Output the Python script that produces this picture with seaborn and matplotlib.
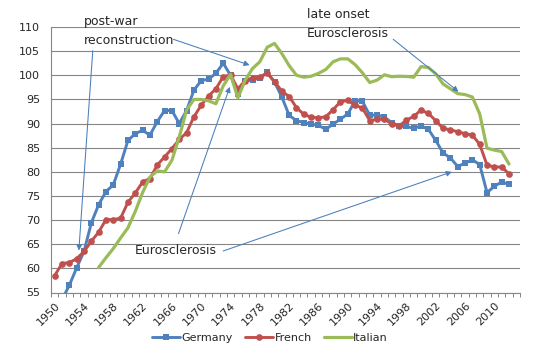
import numpy as np
import pandas as pd
import seaborn as sns
import matplotlib.pyplot as plt
from matplotlib.ticker import MultipleLocator, FixedLocator

nan = np.nan

# index values, 1950-2013
years = list(range(1950, 2014))

germany = [nan, 53.5, 56.5, 60.1, 63.5, 69.4, 73.2, 75.9, 77.3, 81.6,
           86.5, 87.9, 88.6, 87.6, 90.4, 92.7, 92.7, 90.0, 92.7, 96.9,
           98.9, 99.2, 100.4, 102.5, 100.0, 96.1, 98.8, 99.0, 99.5, 100.6,
           98.6, 95.5, 91.7, 90.6, 90.2, 89.9, 89.6, 88.8, 89.9, 90.9,
           92.0, 94.7, 94.6, 91.7, 91.8, 91.3, 90.2, 89.5, 89.4, 89.0,
           89.5, 88.8, 86.5, 83.9, 82.9, 81.1, 81.8, 82.5, 81.5, 75.7,
           77.0, 77.9, 77.4, nan]

french = [58.5, 61.0, 61.2, 62.0, 63.5, 65.6, 67.5, 70.1, 70.1, 70.4,
          73.7, 75.6, 77.9, 78.6, 81.4, 83.1, 84.8, 86.7, 88.1, 91.4,
          93.8, 95.7, 97.2, 99.7, 100.1, 97.2, 98.9, 99.5, 99.6, 100.4,
          98.7, 96.7, 95.6, 93.3, 91.9, 91.3, 91.2, 91.4, 92.9, 94.5,
          94.8, 93.8, 93.2, 90.6, 90.9, 90.9, 89.9, 89.5, 90.7, 91.5,
          92.8, 92.1, 90.6, 89.0, 88.7, 88.3, 87.9, 87.6, 85.7, 81.4,
          81.0, 81.0, 79.6, nan]

italian = [nan, nan, nan, nan, nan, nan, 60.2, 62.2, 64.1, 66.3,
           68.4, 71.8, 75.7, 78.9, 80.2, 80.0, 82.4, 87.2, 92.8, 95.0,
           95.0, 94.7, 94.1, 97.8, 100.2, 95.3, 99.0, 101.4, 102.8, 105.8,
           106.6, 104.5, 102.0, 100.0, 99.6, 99.8, 100.4, 101.2, 102.8, 103.4,
           103.4, 102.2, 100.5, 98.5, 99.0, 100.1, 99.7, 99.8, 99.75, 99.6,
           101.8, 101.6, 100.3, 98.2, 97.2, 96.2, 96.0, 95.5, 92.0, 84.9,
           84.5, 84.2, 81.6, nan]

tick_years = list(range(1950, 2014, 4))

df = pd.DataFrame({"year": years, "Germany": germany,
                   "French": french, "Italian": italian})

sns.set_theme(style="white")
plt.rcParams["font.family"] = ["DejaVu Sans"]

fig = plt.figure(figsize=(5.36, 3.58), dpi=100)
ax = fig.add_axes([51 / 536, 1 - 292.5 / 358, 469 / 536, 265.5 / 358])

grey = "#868686"
sns.lineplot(data=df, x="year", y="Germany", ax=ax, color="#4F81BD",
             lw=2.1, marker="s", markersize=4.6, markeredgewidth=0,
             label="Germany")
sns.lineplot(data=df, x="year", y="French", ax=ax, color="#C0504D",
             lw=2.1, marker="o", markersize=4.8, markeredgewidth=0,
             label="French")
sns.lineplot(data=df, x="year", y="Italian", ax=ax, color="#9BBB59",
             lw=2.3, label="Italian")

ax.set_xlim(1949.5, 2013.5)
ax.set_ylim(55, 110)
ax.set_yticks(range(55, 111, 5))
ax.set_xticks(tick_years)
ax.set_xticklabels([str(y) for y in tick_years], rotation=45, ha="right",
                   va="top", rotation_mode="anchor")
ax.xaxis.set_minor_locator(FixedLocator(np.arange(1949.5, 2014, 1)))
ax.set_xlabel("")
ax.set_ylabel("")

ax.yaxis.grid(True, color=grey, lw=0.8)
ax.xaxis.grid(False)
for s in ["top", "right"]:
    ax.spines[s].set_visible(False)
for s in ["left", "bottom"]:
    ax.spines[s].set_color(grey)
    ax.spines[s].set_linewidth(0.8)

ax.tick_params(axis="x", which="major", length=0, pad=5.8, labelsize=8)
ax.tick_params(axis="x", which="minor", length=3, width=0.7, color=grey,
               direction="out", bottom=True)
ax.tick_params(axis="y", length=0, pad=8, labelsize=8)

# annotations
arrow = dict(arrowstyle="-|>", color="#4A7EBB", lw=0.75,
             mutation_scale=8, shrinkA=0, shrinkB=0)
ax.text(1954.0, 110.5, "post-war", fontsize=9, va="baseline")
ax.text(1954.0, 106.5, "reconstruction", fontsize=9, va="baseline")
ax.text(1984.45, 111.9, "late onset", fontsize=9, va="baseline")
ax.text(1984.45, 107.9, "Eurosclerosis", fontsize=9, va="baseline")
ax.text(1960.95, 62.9, "Eurosclerosis", fontsize=9, va="baseline")

arrows = [((1966.2, 107.45), (1976.6, 102.1)),
          ((1955.2, 105.1), (1953.3, 63.7)),
          ((1966.9, 67.2), (1973.9, 97.6)),
          ((1973.0, 63.6), (2004.2, 80.0)),
          ((1996.2, 107.45), (2005.1, 96.6))]
for tail, head in arrows:
    ax.annotate("", xy=head, xytext=tail, arrowprops=arrow,
                annotation_clip=False)

ax.legend_.remove()
handles, labels = ax.get_legend_handles_labels()
fig.legend(handles, labels, loc="center", ncol=3, frameon=False,
           bbox_to_anchor=(270 / 536, 1 - 338 / 358), fontsize=8,
           handlelength=2.5, handletextpad=0.15, columnspacing=1.1)

fig.savefig("out.png", dpi=100)
